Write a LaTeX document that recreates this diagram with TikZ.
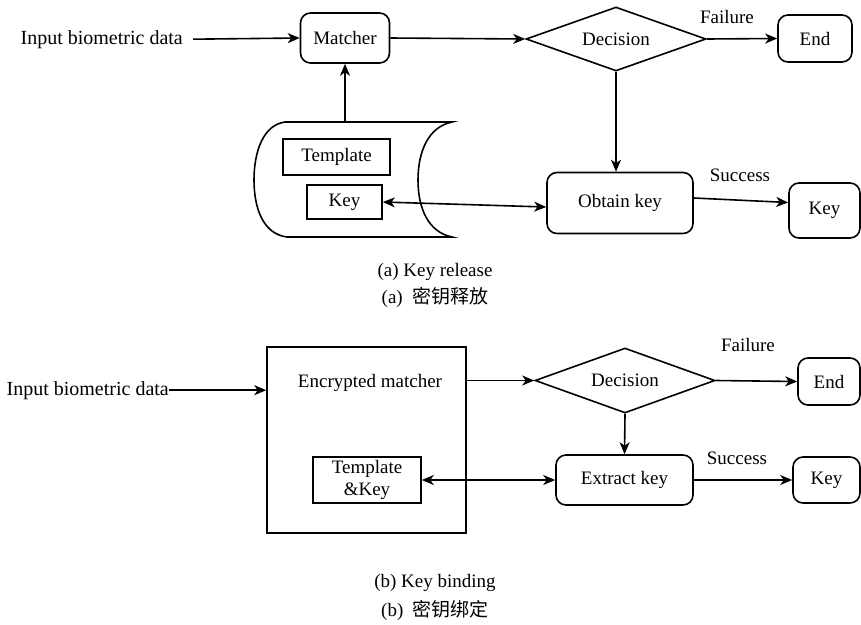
\documentclass[tikz,border=0pt]{standalone}
\usepackage{fontspec}
\setmainfont{Liberation Serif}
\newfontfamily\cjk{Noto Sans CJK SC}
\usetikzlibrary{shapes.geometric,arrows.meta}
\begin{document}
\begin{tikzpicture}[x=1pt,y=-1pt,
  every node/.style={font=\fontsize{19}{23}\selectfont, inner sep=0pt},
  inlbl/.style={font=\fontsize{20}{24}\selectfont},
  tip/.tip={Stealth[length=12pt,width=10pt,inset=3.5pt]},
  arr/.style={line width=1.6pt,-tip},
  darr/.style={line width=1.6pt,tip-tip},
  rbox/.style={draw,line width=1.6pt,rounded corners=10pt},
  sbox/.style={draw,line width=1.6pt},
  dec/.style={draw,line width=1.6pt,diamond,aspect=2.8},
  sz/.style 2 args={minimum width=#1pt,minimum height=#2pt}
]
\useasboundingbox (0,0) rectangle (861,624);

% ---------------- (a) key release ----------------
\node[inlbl,anchor=base east] (inA) at (183,44) {Input biometric data};
\node[rbox,sz={89}{50}] (matcher) at (345,38) {Matcher};
\node[dec,sz={180}{64}] (decA) at (616,39) {Decision};
\node[rbox,sz={74}{47}] (endA) at (815,38.5) {End};
\node[rbox,sz={146}{61}] (obtain) at (620,203) {Obtain key};
\node[rbox,sz={71}{55}] (keyA) at (824.5,210.5) {Key};

% stored-data shape holding the template and key
\draw[line width=1.6pt]
  (285,122) -- (452,122)
  .. controls (428,127) and (418,152) .. (418,180)
  .. controls (418,208) and (428,232) .. (452,237)
  -- (287,237)
  .. controls (263,234) and (254,208) .. (254,180)
  .. controls (254,152) and (263,125) .. (285,122) -- cycle;
\coordinate (storTop) at (345,122);
\node[sbox,sz={107}{36}] (tmpl) at (336.5,157) {Template};
\node[sbox,sz={75}{34}] (keyIn) at (344.5,202) {Key};

\draw[arr] ([xshift=10pt]inA.east) -- (matcher.west);
\draw[arr] (matcher.east) -- (decA.west);
\draw[arr] (decA.east) -- (endA.west);
\draw[arr] (storTop) -- (matcher.south);
\draw[arr] (decA.south) -- (decA.south |- obtain.north);
\draw[arr] ([yshift=5pt]obtain.east) -- ([yshift=8pt]keyA.west);
\draw[darr] (keyIn.east) -- ([yshift=-4pt]obtain.west);

\node (failA) at (727,17) {Failure};
\node (succA) at (740,175) {Success};

\node (capA1) at (435,272) {(a) Key release};
\node (capA2) at (435,297) {(a)\ \ {\cjk 密钥释放}};

% ---------------- (b) key binding ----------------
\node[inlbl,anchor=base east] (inB) at (169,395) {Input biometric data};
\node[sbox,sz={199}{186}] (enc) at (366.5,440) {};
\node (encLbl) at (370,383) {Encrypted matcher};
\node[sbox,sz={108}{46},align=center,font=\fontsize{19}{22}\selectfont] (tk) at (367,480) {Template\\\&Key};
\node[dec,sz={180}{65}] (decB) at (625,380.5) {Decision};
\node[rbox,sz={62}{47}] (endB) at (829,381.5) {End};
\node[rbox,sz={137}{50}] (extract) at (624.5,480) {Extract key};
\node[rbox,sz={67}{46}] (keyB) at (826.5,480) {Key};

\draw[arr] (inB.east) -- (enc.west |- inB.east);
\draw[arr] (enc.east |- decB.west) -- (decB.west);
\draw[arr] (decB.east) -- (endB.west);
\draw[arr] (decB.south) -- (extract.north);
\draw[arr] (extract.east) -- (keyB.west);
\draw[darr] (tk.east) -- (extract.west);

\node (failB) at (748,345) {Failure};
\node (succB) at (737,458) {Success};

\node (capB1) at (435,583) {(b) Key binding};
\node (capB2) at (435,610) {(b)\ \ {\cjk 密钥绑定}};
\end{tikzpicture}
\end{document}
